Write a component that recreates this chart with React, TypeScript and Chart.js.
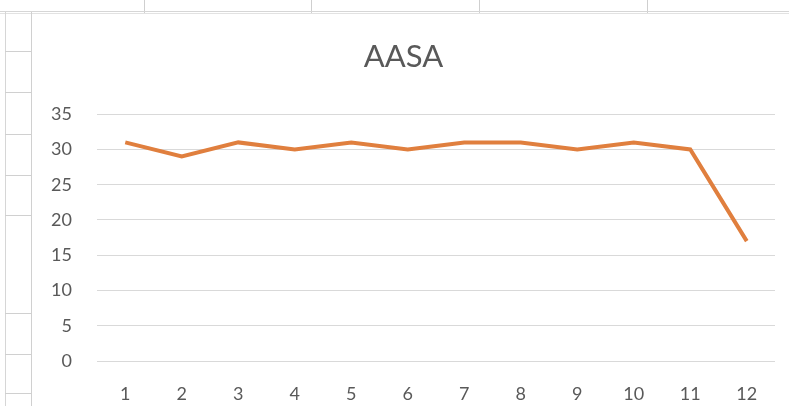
import React, { useEffect, useRef } from "react";
import { Chart, registerables } from "chart.js";

Chart.register(...registerables);

const chartTitle = "AASA";
const categories = ["1", "2", "3", "4", "5", "6", "7", "8", "9", "10", "11", "12"];
const seriesValues = [31, 29, 31, 30, 31, 30, 31, 31, 30, 31, 30, 17];
const yTicks = [0, 5, 10, 15, 20, 25, 30, 35];

// spreadsheet backdrop around the embedded chart
const rowLines = [51, 92, 134, 175, 215, 313, 354, 393];
const colLines = [144, 311, 479, 647];

const FONT = "Lato, 'Open Sans', sans-serif";
const TEXT = "#595959";

export default function App() {
  const canvasRef = useRef<HTMLCanvasElement | null>(null);

  useEffect(() => {
    if (!canvasRef.current) return;
    const chart = new Chart(canvasRef.current, {
      type: "line",
      data: {
        labels: categories,
        datasets: [
          {
            data: seriesValues,
            borderColor: "#E07F3E",
            borderWidth: 4,
            pointRadius: 0,
            tension: 0,
            fill: false,
          },
        ],
      },
      options: {
        animation: false,
        responsive: false,
        layout: { padding: { left: 0, right: 14, top: 0, bottom: 0 } },
        plugins: {
          legend: { display: false },
          tooltip: { enabled: false },
          title: {
            display: true,
            text: chartTitle,
            color: TEXT,
            font: { family: FONT, size: 31, weight: "normal" },
            padding: { top: 24, bottom: 39 },
          },
        },
        scales: {
          x: {
            offset: true,
            grid: { display: false, drawTicks: false },
            border: { display: false },
            ticks: {
              color: TEXT,
              font: { family: FONT, size: 18 },
              padding: 22,
              maxRotation: 0,
            },
            afterFit: (s: any) => {
              s.height = 45;
            },
          },
          y: {
            min: yTicks[0],
            max: yTicks[yTicks.length - 1],
            afterBuildTicks: (s: any) => {
              s.ticks = yTicks.map((v) => ({ value: v }));
            },
            grid: { color: "#D9D9D9", lineWidth: 1, drawTicks: false },
            border: { display: false },
            ticks: {
              color: TEXT,
              font: { family: FONT, size: 18 },
              padding: 25,
            },
            afterFit: (s: any) => {
              s.width = 65;
            },
          },
        },
      },
    });
    return () => chart.destroy();
  }, []);

  return (
    <div
      style={{
        position: "fixed",
        left: 0,
        top: 0,
        width: 789,
        height: 406,
        background: "#fff",
        overflow: "hidden",
      }}
    >
      {/* column separators of the sheet header row */}
      {colLines.map((x) => (
        <div
          key={"c" + x}
          style={{ position: "absolute", left: x, top: 0, width: 1, height: 14, background: "#CFCFCF" }}
        />
      ))}
      <div style={{ position: "absolute", left: 0, top: 11, width: 789, height: 1, background: "#D6D6D6" }} />
      <div style={{ position: "absolute", left: 0, top: 13, width: 789, height: 1, background: "#E2E2E2" }} />
      {/* row strip on the left */}
      <div style={{ position: "absolute", left: 5, top: 12, width: 1, height: 394, background: "#D6D6D6" }} />
      {rowLines.map((y) => (
        <div
          key={"r" + y}
          style={{ position: "absolute", left: 5, top: y, width: 26, height: 1, background: "#D0D0D0" }}
        />
      ))}
      <div style={{ position: "absolute", left: 31, top: 12, width: 1, height: 394, background: "#D0D0D0" }} />
      <canvas
        ref={canvasRef}
        width={757}
        height={392}
        style={{ position: "absolute", left: 32, top: 14, width: 757, height: 392, background: "#fff" }}
      />
    </div>
  );
}
